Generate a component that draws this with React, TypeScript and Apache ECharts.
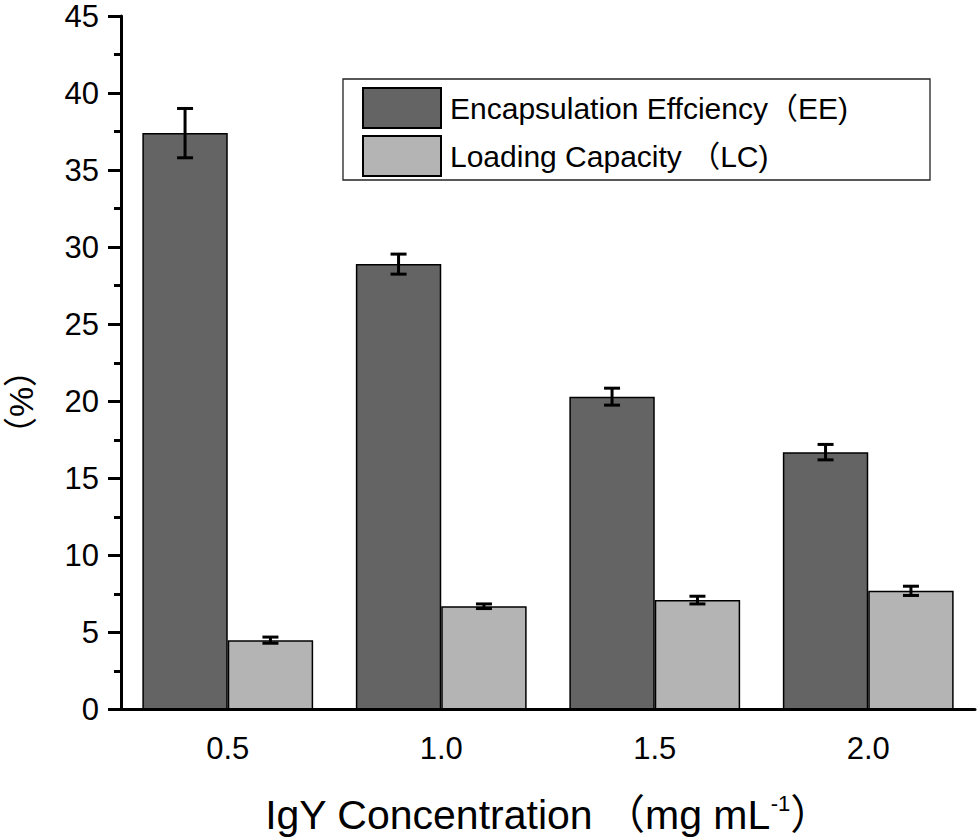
import React, { useEffect, useRef } from "react";
import * as echarts from "echarts";

const categories = ["0.5", "1.0", "1.5", "2.0"];
const eeValues = [37.4, 28.9, 20.3, 16.7];
const eeErrors = [1.6, 0.65, 0.55, 0.5];
const lcValues = [4.5, 6.7, 7.1, 7.7];
const lcErrors = [0.2, 0.15, 0.25, 0.3];
const seriesNames = ["Encapsulation Effciency（EE)", "Loading Capacity （LC)"];
const yTitle = "（%）";

const FONT = "'Liberation Sans', Arial, 'Noto Sans CJK SC', sans-serif";

function errorRenderer(offset: number) {
  return (params: any, api: any) => {
    const idx = api.value(0);
    const v = api.value(1);
    const e = api.value(2);
    const c = api.coord([idx, v]);
    const bw = api.size([1, 0])[0];
    const x = c[0] + offset * bw;
    const top = api.coord([idx, v + e])[1];
    const bot = api.coord([idx, v - e])[1];
    const half = 8;
    const style = { stroke: "#000", lineWidth: 3 };
    return {
      type: "group",
      children: [
        { type: "line", shape: { x1: x, y1: top, x2: x, y2: bot }, style },
        { type: "line", shape: { x1: x - half, y1: top, x2: x + half, y2: top }, style },
        { type: "line", shape: { x1: x - half, y1: bot, x2: x + half, y2: bot }, style },
      ],
    };
  };
}

export default function App() {
  const ref = useRef<HTMLDivElement>(null);
  useEffect(() => {
    document.body.style.margin = "0";
    const chart = echarts.init(ref.current!, null, { renderer: "svg" });
    const axisLine = { lineStyle: { color: "#000", width: 3 } };
    chart.setOption({
      animation: false,
      backgroundColor: "#fff",
      grid: { left: 121, right: 5, top: 16, bottom: 130 },
      legend: {
        data: seriesNames,
        orient: "vertical",
        left: 362,
        top: 87,
        padding: 0,
        itemWidth: 78,
        itemHeight: 40,
        itemGap: 6,
        icon: "rect",
        selectedMode: false,
        textStyle: { fontSize: 30, color: "#000", fontFamily: FONT, padding: [0, 0, 0, 4] },
      },
      graphic: [
        {
          type: "rect",
          shape: { x: 343, y: 79, width: 587, height: 101 },
          style: { fill: "none", stroke: "#222", lineWidth: 1.3 },
          z: 0,
        },
        {
          type: "text",
          x: 21,
          y: 402,
          rotation: Math.PI / 2,
          style: {
            text: yTitle,
            fontSize: 34,
            fill: "#000",
            fontFamily: FONT,
            align: "center",
            verticalAlign: "middle",
          },
        },
      ],
      xAxis: [
        {
          type: "category",
          data: categories,
          boundaryGap: true,
          axisLine,
          axisTick: { alignWithLabel: true, length: 12, lineStyle: { color: "#000", width: 3 } },
          axisLabel: { fontSize: 31, color: "#000", fontFamily: FONT, margin: 23 },
          name: "{a|IgY Concentration （mg mL}{s|-1}{a|）}",
          nameLocation: "middle",
          nameGap: 83,
          nameTextStyle: {
            rich: {
              a: { fontSize: 41, color: "#000", fontFamily: FONT },
              s: { fontSize: 22, color: "#000", fontFamily: FONT, verticalAlign: "top", padding: [0, 0, 22, 0] },
            },
          },
        },
        {
          type: "category",
          data: categories,
          boundaryGap: true,
          position: "bottom",
          axisLine: { show: false },
          axisTick: { alignWithLabel: false, length: 7, lineStyle: { color: "#000", width: 3 } },
          axisLabel: { show: false },
        },
      ],
      yAxis: {
        type: "value",
        min: 0,
        max: 45,
        interval: 5,
        axisLine: { show: true, ...axisLine },
        axisTick: { show: true, length: 13, lineStyle: { color: "#000", width: 3 } },
        minorTick: { show: true, splitNumber: 2, length: 7, lineStyle: { color: "#000", width: 3 } },
        splitLine: { show: false },
        axisLabel: { fontSize: 31, color: "#000", fontFamily: FONT, margin: 22 },
      },
      series: [
        {
          name: seriesNames[0],
          type: "bar",
          data: eeValues,
          barGap: "0%",
          barCategoryGap: "20%",
          itemStyle: { color: "#646464", borderColor: "#000", borderWidth: 1.5 },
        },
        {
          name: seriesNames[1],
          type: "bar",
          data: lcValues,
          barGap: "0%",
          barCategoryGap: "20%",
          itemStyle: { color: "#b4b4b4", borderColor: "#000", borderWidth: 1.5 },
        },
        {
          name: "EE error",
          type: "custom",
          renderItem: errorRenderer(-0.2),
          data: categories.map((_, i) => [i, eeValues[i], eeErrors[i]]),
          z: 5,
        },
        {
          name: "LC error",
          type: "custom",
          renderItem: errorRenderer(0.2),
          data: categories.map((_, i) => [i, lcValues[i], lcErrors[i]]),
          z: 5,
        },
      ],
    });
    return () => chart.dispose();
  }, []);
  return <div ref={ref} style={{ width: 980, height: 840 }} />;
}
